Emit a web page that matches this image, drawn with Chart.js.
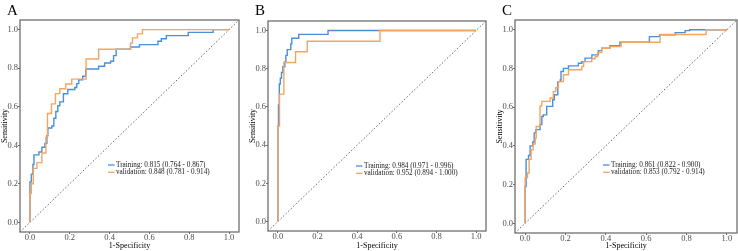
<!DOCTYPE html>
<html lang="en">
<head>
  <meta charset="UTF-8" />
  <title>ROC curves</title>
  <script src="https://cdn.jsdelivr.net/npm/chart.js"></script>
  <style>
    html, body { margin: 0; padding: 0; background: #fff; }
    body { width: 738px; height: 251px; position: relative; overflow: hidden; }
    .panel { position: absolute; top: 0; }
    canvas { display: block; }
  </style>
</head>
<body>
  <div class="panel" style="left:0px"><canvas id="rocA" width="245" height="251"></canvas></div>
  <div class="panel" style="left:248px"><canvas id="rocB" width="242" height="251"></canvas></div>
  <div class="panel" style="left:495px"><canvas id="rocC" width="243" height="251"></canvas></div>

  <script>
    // ticks shared by both axes
    const tickVals = [0, 0.2, 0.4, 0.6, 0.8, 1.0];
    const axisMin = -0.05, axisMax = 1.05;

    // ROC corners as [1-specificity, sensitivity]
    const trainA = [[0,0],[0,0.21],[0.007,0.25],[0.015,0.30],[0.02,0.35],[0.045,0.365],[0.06,0.39],
      [0.075,0.41],[0.085,0.45],[0.09,0.49],[0.11,0.50],[0.12,0.54],[0.13,0.575],[0.14,0.605],
      [0.15,0.625],[0.168,0.667],[0.19,0.689],[0.225,0.70],[0.235,0.72],[0.245,0.74],[0.265,0.758],
      [0.28,0.796],[0.345,0.81],[0.375,0.827],[0.405,0.836],[0.42,0.865],[0.433,0.898],[0.505,0.91],
      [0.55,0.922],[0.643,0.94],[0.66,0.953],[0.685,0.969],[0.795,0.986],[0.92,1.0],[1,1]];
    const validA = [[0,0],[0,0.15],[0.007,0.20],[0.017,0.28],[0.035,0.31],[0.06,0.36],[0.08,0.44],
      [0.088,0.565],[0.108,0.615],[0.128,0.668],[0.15,0.693],[0.18,0.718],[0.21,0.743],[0.282,0.848],
      [0.345,0.898],[0.505,0.93],[0.515,0.957],[0.54,0.978],[0.565,1.0],[1,1]];

    const trainB = [[0,0],[0,0.50],[0.003,0.61],[0.007,0.72],[0.012,0.75],[0.018,0.78],[0.025,0.81],
      [0.035,0.835],[0.04,0.87],[0.047,0.90],[0.065,0.93],[0.07,0.96],[0.105,0.98],[0.253,1.0],[1,1]];
    const validB = [[0,0],[0,0.50],[0.008,0.667],[0.03,0.833],[0.089,0.889],[0.148,0.944],[0.515,1.0],[1,1]];

    const trainC = [[0,0],[0,0.19],[0.005,0.33],[0.017,0.35],[0.025,0.40],[0.038,0.42],[0.045,0.467],
      [0.053,0.484],[0.074,0.51],[0.083,0.552],[0.09,0.56],[0.107,0.604],[0.137,0.638],[0.145,0.664],
      [0.162,0.732],[0.174,0.74],[0.178,0.784],[0.19,0.80],[0.215,0.813],[0.264,0.827],[0.281,0.835],
      [0.297,0.853],[0.331,0.87],[0.363,0.892],[0.38,0.904],[0.42,0.917],[0.47,0.935],[0.616,0.964],
      [0.666,0.973],[0.744,0.985],[0.793,0.995],[0.815,1.0],[1,1]];
    const validC = [[0,0],[0,0.235],[0.012,0.26],[0.02,0.33],[0.03,0.38],[0.04,0.41],[0.05,0.44],
      [0.055,0.50],[0.074,0.605],[0.083,0.63],[0.124,0.647],[0.14,0.68],[0.152,0.70],[0.165,0.732],
      [0.19,0.767],[0.215,0.793],[0.281,0.81],[0.29,0.835],[0.33,0.85],[0.347,0.861],[0.36,0.882],
      [0.38,0.904],[0.42,0.913],[0.476,0.935],[0.669,0.975],[0.897,1.0],[1,1]];

    const labelsA = ["Training: 0.815 (0.764 - 0.867)", "validation: 0.848 (0.781 - 0.914)"];
    const labelsB = ["Training: 0.984 (0.971 - 0.996)", "validation: 0.952 (0.894 - 1.000)"];
    const labelsC = ["Training: 0.861 (0.822 - 0.900)", "validation: 0.853 (0.792 - 0.914)"];

    const blue = "#4a8fd9";
    const orange = "#f5a560";
    const serif = "'Liberation Serif', 'Times New Roman', serif";

    // box around the panel, the panel letter and the inset legend
    const panelExtras = {
      id: "panelExtras",
      afterDraw(chart, args, opts) {
        const { ctx, chartArea: a } = chart;
        ctx.save();
        ctx.strokeStyle = "#6f6f6f";
        ctx.lineWidth = 1.3;
        ctx.strokeRect(a.left, a.top, a.right - a.left, a.bottom - a.top);

        ctx.fillStyle = "#000";
        ctx.font = "15px " + serif;
        ctx.textBaseline = "alphabetic";
        ctx.fillText(opts.letter, 7, 14.5);

        ctx.font = "7.2px " + serif;
        ctx.textBaseline = "middle";
        [blue, orange].forEach((c, i) => {
          const y = a.top + 145 + i * 7.3;
          ctx.strokeStyle = c;
          ctx.lineWidth = 1.3;
          ctx.beginPath();
          ctx.moveTo(a.left + 88, y);
          ctx.lineTo(a.left + 94.5, y);
          ctx.stroke();
          ctx.fillStyle = "#1a1a1a";
          ctx.fillText(opts.labels[i], a.left + 96, y);
        });
        ctx.restore();
      }
    };

    const toPts = arr => arr.map(p => ({ x: p[0], y: p[1] }));

    function makeRoc(id, letter, train, valid, labels, padTop, padRight, xHeight) {
      new Chart(document.getElementById(id), {
        type: "line",
        data: {
          datasets: [
            { data: [axisMin, axisMax].map(v => ({ x: v, y: v })), borderColor: "#555",
              borderDash: [1.5, 2], borderWidth: 0.9, pointRadius: 0, order: 3 },
            { data: toPts(train), borderColor: blue, borderWidth: 1.4, stepped: "before",
              pointRadius: 0, order: 2 },
            { data: toPts(valid), borderColor: orange, borderWidth: 1.4, stepped: "before",
              pointRadius: 0, order: 1 }
          ]
        },
        options: {
          responsive: false,
          animation: false,
          events: [],
          layout: { padding: { top: padTop, right: padRight, left: 0, bottom: 0 } },
          plugins: {
            legend: { display: false },
            tooltip: { enabled: false },
            panelExtras: { letter: letter, labels: labels }
          },
          scales: {
            x: {
              type: "linear", min: axisMin, max: axisMax,
              afterBuildTicks: s => { s.ticks = tickVals.map(v => ({ value: v })); },
              afterFit: s => { s.height = xHeight; },
              grid: { drawOnChartArea: false, tickLength: 2, color: "#666" },
              border: { display: false },
              ticks: { callback: v => (+v).toFixed(1), color: "#4d4d4d", padding: 0,
                maxRotation: 0, autoSkip: false, font: { family: serif, size: 8.5, lineHeight: 1 } },
              title: { display: true, text: "1-Specificity", color: "#000", padding: 0,
                font: { family: serif, size: 8 } }
            },
            y: {
              type: "linear", min: axisMin, max: axisMax,
              afterBuildTicks: s => { s.ticks = tickVals.map(v => ({ value: v })); },
              afterFit: s => { s.width = 20; },
              grid: { drawOnChartArea: false, tickLength: 2, color: "#666" },
              border: { display: false },
              ticks: { callback: v => (+v).toFixed(1), color: "#4d4d4d", padding: 0,
                autoSkip: false, font: { family: serif, size: 8.5, lineHeight: 1 } },
              title: { display: true, text: "Sensitivity", color: "#000", padding: 0,
                font: { family: serif, size: 8 } }
            }
          }
        },
        plugins: [panelExtras]
      });
    }

    makeRoc("rocA", "A", trainA, validA, labelsA, 20, 6, 19);
    makeRoc("rocB", "B", trainB, validB, labelsB, 21, 4, 20);
    makeRoc("rocC", "C", trainC, validC, labelsC, 20, 1, 18);
  </script>
</body>
</html>
